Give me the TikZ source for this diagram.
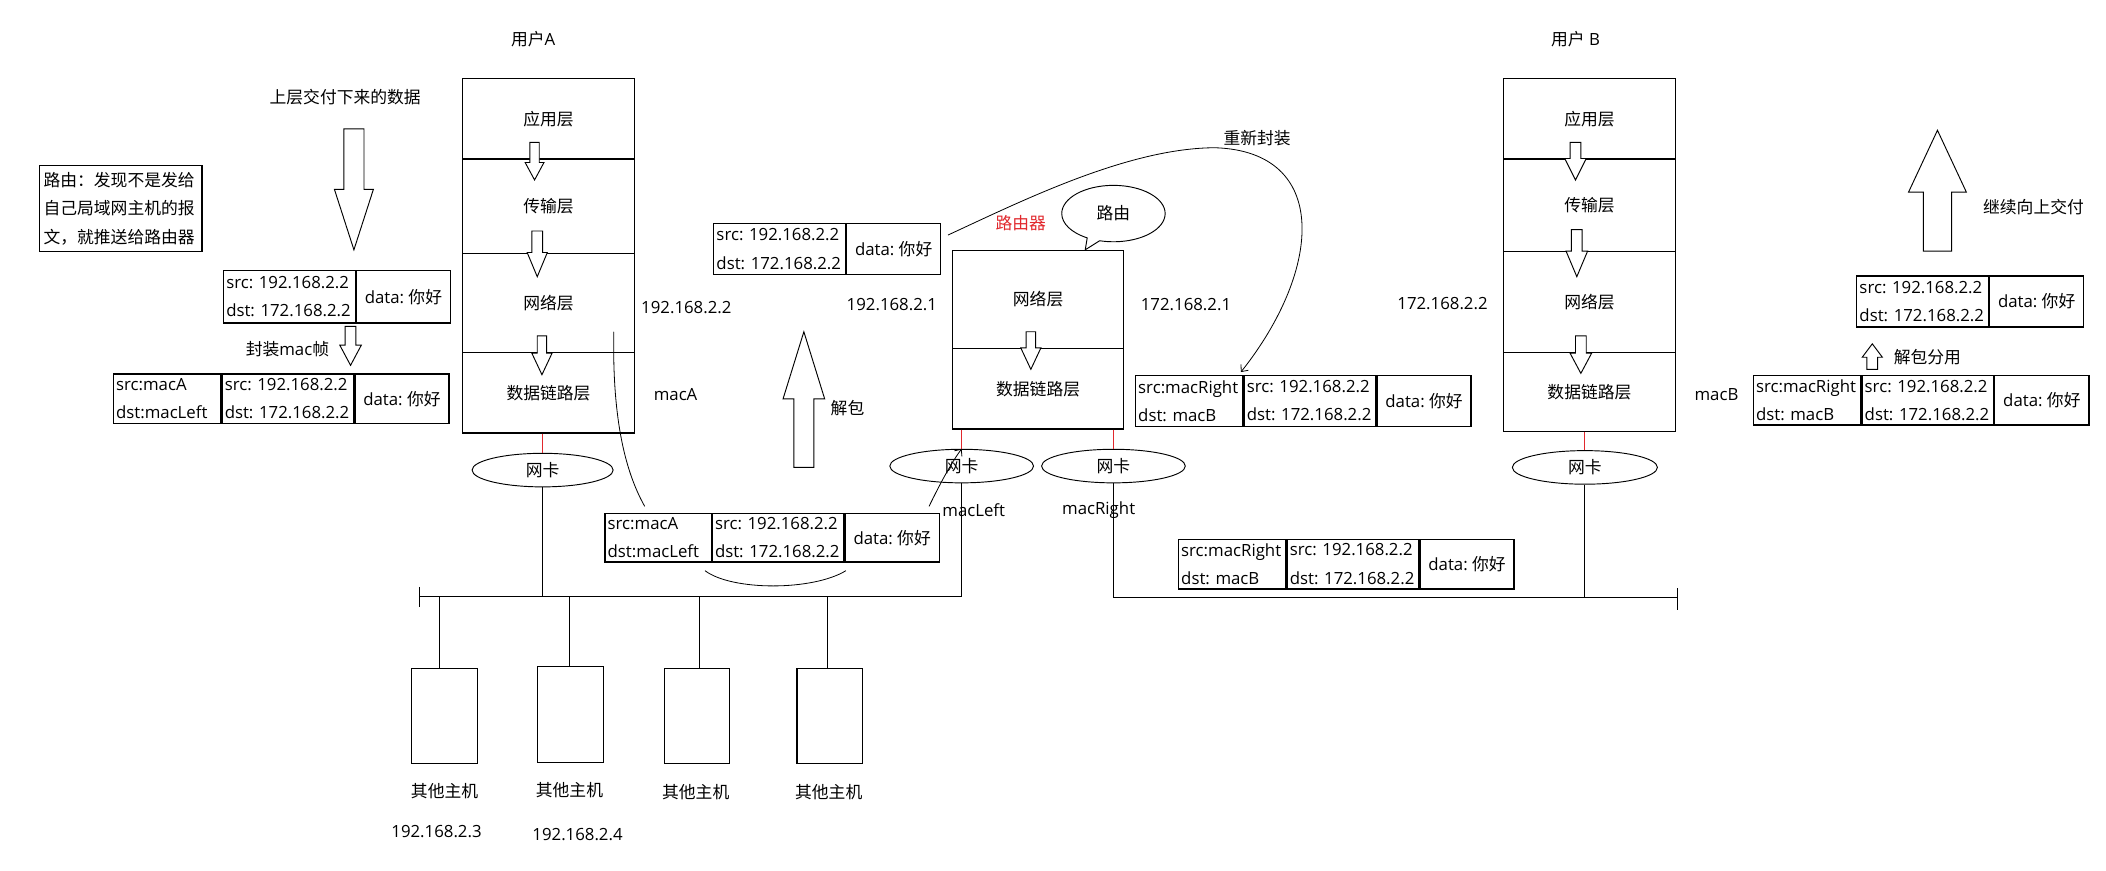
\documentclass[tikz,border=0pt]{standalone}
\usepackage{fontspec}
\setmainfont{Open Sans}
\newfontfamily\zh{Noto Sans CJK SC}
\usetikzlibrary{shapes.geometric,shapes.callouts,calc,arrows.meta}
\definecolor{routerred}{RGB}{225,40,45}
\frenchspacing
\newcommand\hollowarrow[6]{%
  \draw[hollow] (#1-#5,#2) -- (#1+#5,#2) -- (#1+#5,#3) -- (#1+#6,#3) -- (#1,#4) -- (#1-#6,#3) -- (#1-#5,#3) -- cycle;}
\newcommand\iptxt{\mbox{src: 192.168.2.2}\\\mbox{dst: 172.168.2.2}}
\begin{document}
\begin{tikzpicture}[x=1pt,y=-1pt,line width=0.7pt,
  every node/.style={font=\fontsize{12.5}{15}\selectfont},
  lbl/.style={inner sep=0pt},
  layer/.style={draw,line width=0.8pt,minimum width=128pt,inner sep=0pt,anchor=north west},
  cell/.style={draw,line width=0.9pt,inner xsep=2pt,inner ysep=0pt,anchor=north west,align=left,font=\fontsize{12.5}{21}\selectfont},
  nic/.style={draw,ellipse,minimum width=105pt,minimum height=25pt,inner sep=0pt},
  host/.style={draw,line width=0.8pt,minimum width=49pt,minimum height=71pt,anchor=north west,inner sep=0pt},
  hollow/.style={draw,fill=white,line width=0.7pt},
  redwire/.style={draw=routerred,line width=0.6pt},
  barb/.style={-{Straight Barb[length=4pt,width=7pt]}},
]
\useasboundingbox[fill=white] (0,0) rectangle (1568,648);

% ---------- titles ----------
\node[lbl] (uA) at (397,29) {{\zh 用户}A};
\node[lbl] (uB) at (1173,29) {{\zh 用户} B};

% ---------- stack A ----------
\node[layer,minimum height=60pt] (a1) at (344,58) {\zh 应用层};
\node[layer,minimum height=70pt] (a2) at (344,118) {\zh 传输层};
\node[layer,minimum height=74pt] (a3) at (344,188) {\zh 网络层};
\node[layer,minimum height=60pt] (a4) at (344,262) {\zh 数据链路层};
\hollowarrow{398}{106}{121}{134}{3.5}{7}
\hollowarrow{400}{172}{188}{206}{4}{7.5}
\hollowarrow{403.5}{250}{263}{279}{3.5}{7.5}

% ---------- stack B ----------
\node[layer,minimum height=60pt] (b1) at (1119,58) {\zh 应用层};
\node[layer,minimum height=69pt] (b2) at (1119,118) {\zh 传输层};
\node[layer,minimum height=75pt] (b3) at (1119,187) {\zh 网络层};
\node[layer,minimum height=59pt] (b4) at (1119,262) {\zh 数据链路层};
\hollowarrow{1173}{106}{118}{134}{4}{8}
\hollowarrow{1174}{171}{187}{206}{4}{8}
\hollowarrow{1177}{250}{263}{278}{4}{8}

% ---------- router ----------
\node[layer,minimum width=127pt,minimum height=73pt] (r1) at (709,186) {\zh 网络层};
\node[layer,minimum width=127pt,minimum height=60pt] (r2) at (709,259) {\zh 数据链路层};
\hollowarrow{767.5}{247}{259}{275}{3.5}{7.5}
\node[lbl,text=routerred] (rname) at (760,166) {\zh 路由器};
\node[draw,ellipse callout,minimum width=77pt,minimum height=42pt,inner sep=0pt,
      callout absolute pointer={(808,186)}] (route) at (829,159) {\zh 路由\hspace{12pt}};

% ---------- left side ----------
\node[lbl] (down) at (257,72) {\zh 上层交付下来的数据};
\hollowarrow{263.5}{96}{141}{186}{7.5}{14.5}
\node[draw,line width=0.9pt,anchor=north west,minimum width=121pt,minimum height=64pt,
      text width=115pt,align=left,inner xsep=3pt,inner ysep=0pt,
      font=\zh\fontsize{12.5}{21.5}\selectfont] (note) at (29,123)
      {路由：发现不是发给\\自己局域网主机的报\\文，就推送给路由器};

% packet 1
\node[cell,text width=94pt,minimum height=39pt] (p1ip) at (166,201) {\iptxt};
\node[cell,minimum width=70pt,minimum height=39pt,align=center] (p1data) at (p1ip.north east) {data: {\zh 你好}};
\hollowarrow{261}{243}{257}{272}{4}{8}
\node[lbl] (encap) at (214,260) {{\zh 封装}mac{\zh 帧}};
% packet 2
\node[cell,text width=76pt,minimum height=37pt] (p2mac) at (84,278) {\mbox{src:macA}\\\mbox{dst:macLeft}};
\node[cell,text width=94pt,minimum height=37pt] (p2ip) at (p2mac.north east) {\iptxt};
\node[cell,minimum width=70pt,minimum height=37pt,align=center] (p2data) at (p2ip.north east) {data: {\zh 你好}};

% labels round stack A / router
\node[lbl] (ipA) at (511,229) {192.168.2.2};
\node[lbl] (macA) at (503,294) {macA};
\node[lbl] (ipRL) at (664,227) {192.168.2.1};
\node[lbl] (ipRR) at (883,227) {172.168.2.1};
\node[lbl] (ipB) at (1074,226) {172.168.2.2};
\node[lbl] (macBl) at (1278,294) {macB};
\node[lbl] (macL) at (725,380) {macLeft};
\node[lbl] (macR) at (818,380) {macRight};

% packet 3 (into router)
\node[cell,text width=94pt,minimum height=38pt] (p3ip) at (531,166) {\iptxt};
\node[cell,minimum width=70pt,minimum height=38pt,align=center] (p3data) at (p3ip.north east) {data: {\zh 你好}};
% unpack arrow
\hollowarrow{598.5}{348}{297}{247}{7.5}{15.5}
\node[lbl] (unpack) at (631,304) {\zh 解包};

% packet 4 (on left LAN)
\node[cell,text width=75pt,minimum height=36pt] (p4mac) at (450,382) {\mbox{src:macA}\\\mbox{dst:macLeft}};
\node[cell,text width=94pt,minimum height=36pt] (p4ip) at (p4mac.north east) {\iptxt};
\node[cell,minimum width=70pt,minimum height=36pt,align=center] (p4data) at (p4ip.north east) {data: {\zh 你好}};

% packet 5 (router out)
\node[cell,text width=76pt,minimum height=38pt] (p5mac) at (845,279) {\mbox{src:macRight}\\\mbox{dst: macB}};
\node[cell,text width=94pt,minimum height=38pt] (p5ip) at (p5mac.north east) {\iptxt};
\node[cell,minimum width=70pt,minimum height=38pt,align=center] (p5data) at (p5ip.north east) {data: {\zh 你好}};
\node[lbl] (reencap) at (936,103) {\zh 重新封装};

% packet 6 (right LAN)
\node[cell,text width=76pt,minimum height=37pt] (p6mac) at (877,401) {\mbox{src:macRight}\\\mbox{dst: macB}};
\node[cell,text width=94pt,minimum height=37pt] (p6ip) at (p6mac.north east) {\iptxt};
\node[cell,minimum width=70pt,minimum height=37pt,align=center] (p6data) at (p6ip.north east) {data: {\zh 你好}};

% packet 7 (at B)
\node[cell,text width=76pt,minimum height=37pt] (p7mac) at (1305,279) {\mbox{src:macRight}\\\mbox{dst: macB}};
\node[cell,text width=94pt,minimum height=37pt] (p7ip) at (p7mac.north east) {\iptxt};
\node[cell,minimum width=70pt,minimum height=37pt,align=center] (p7data) at (p7ip.north east) {data: {\zh 你好}};
\hollowarrow{1394}{275}{266}{256}{4}{7.5}
\node[lbl] (demux) at (1435,266) {\zh 解包分用};
% packet 8
\node[cell,text width=94pt,minimum height=38pt] (p8ip) at (1382,205) {\iptxt};
\node[cell,minimum width=70pt,minimum height=38pt,align=center] (p8data) at (p8ip.north east) {data: {\zh 你好}};
\hollowarrow{1442.5}{187}{143}{97}{10.5}{21.5}
\node[lbl] (upward) at (1514,154) {\zh 继续向上交付};

% ---------- NICs ----------
\node[nic] (nicA) at (404,350) {\zh 网卡};
\node[nic,minimum width=107pt] (nicL) at (716,347) {\zh 网卡};
\node[nic,minimum width=107pt] (nicR) at (829,347) {\zh 网卡};
\node[nic,minimum width=108pt] (nicB) at (1180,348) {\zh 网卡};
\draw[redwire] (nicA.north |- a4.south) -- (nicA.north);
\draw[redwire] (nicL.north |- r2.south) -- (nicL.north);
\draw[redwire] (nicR.north |- r2.south) -- (nicR.north);
\draw[redwire] (nicB.north |- b4.south) -- (nicB.north);

% ---------- buses ----------
\coordinate (busL) at (312,444);
\coordinate (tickL1) at (312,437);
\coordinate (tickL2) at (312,452);
\coordinate (busR) at (1249,445);
\coordinate (tickR1) at (1249,438);
\coordinate (tickR2) at (1249,454);
\draw (nicL.south) -- (nicL.south |- busL) -- (busL);
\draw (tickL1) -- (tickL2);
\draw (nicA.south) -- (nicA.south |- busL);
\draw (nicR.south) -- (nicR.south |- busR) -- (busR);
\draw (tickR1) -- (tickR2);
\draw (nicB.south) -- (nicB.south |- busR);

% ---------- hosts ----------
\node[host] (h1) at (306,497) {};
\node[host] (h2) at (400,496) {};
\node[host] (h3) at (494,497) {};
\node[host] (h4) at (593,497) {};
\coordinate (d1) at (327,444);
\coordinate (d2) at (424,444);
\coordinate (d3) at (521,444);
\coordinate (d4) at (616,444);
\draw (d1) -- (d1 |- h1.north);
\draw (d2) -- (d2 |- h2.north);
\draw (d3) -- (d3 |- h3.north);
\draw (d4) -- (d4 |- h4.north);
\node[lbl] (t1) at (331,589) {\zh 其他主机};
\node[lbl] (t2) at (424,588) {\zh 其他主机};
\node[lbl] (t3) at (518,590) {\zh 其他主机};
\node[lbl] (t4) at (617,590) {\zh 其他主机};
\node[lbl] (ip3) at (325,619) {192.168.2.3};
\node[lbl] (ip4) at (430,621) {192.168.2.4};

% ---------- flow curves ----------
\coordinate (cA) at (457,247);
\draw[line width=0.6pt] (cA) .. controls (456,300) and (462,345) .. ($(p4mac.north west)+(30,-5)$);
\draw[line width=0.6pt] ($(p4ip.south west)+(-5,6)$) .. controls (545,440) and (605,440) .. ($(p4data.south west)+(1,6)$);
\draw[line width=0.6pt,barb] ($(p4data.north east)+(-8,-5)$) .. controls (700,360) and (708,345) .. (nicL.north);
\draw[line width=0.6pt,barb] ($(p3data.north east)+(5,9)$) .. controls (760,150) and (840,110) .. (905,110)
      .. controls (990,113) and (985,200) .. ($(p5ip.north west)+(-2,-2)$);
\end{tikzpicture}
\end{document}
